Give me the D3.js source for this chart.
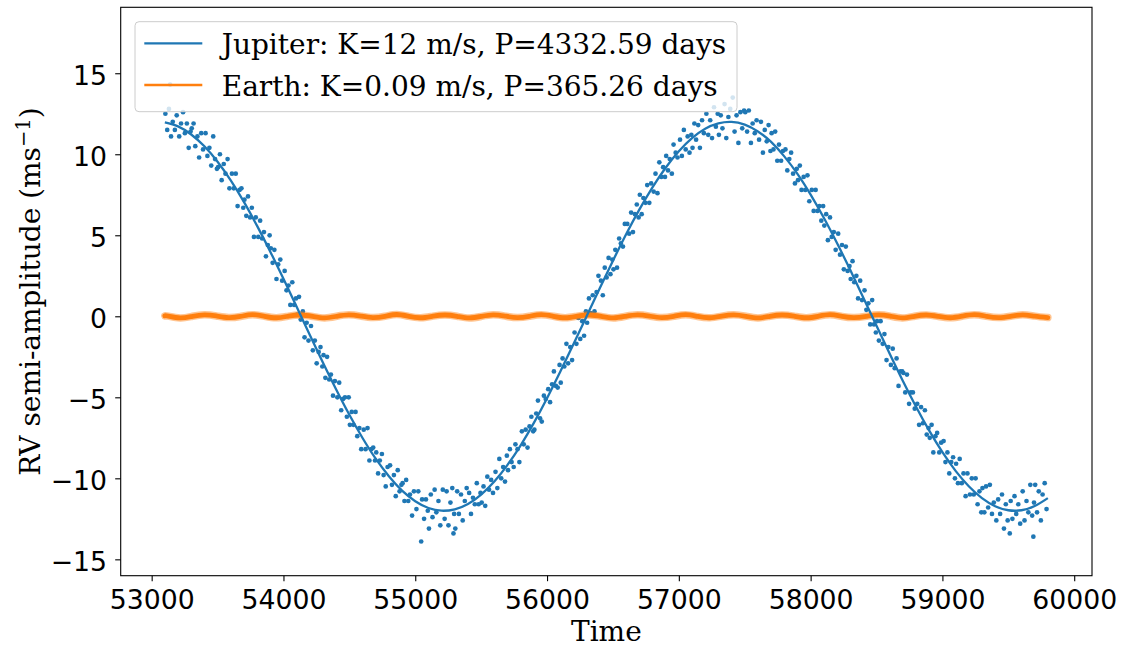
<!DOCTYPE html>
<html>
<head>
<meta charset="utf-8">
<script src="https://cdn.jsdelivr.net/npm/d3@7"></script>
<style>
  body { margin: 0; background: #fff; }
  .tick text { font-family: "DejaVu Sans", sans-serif; font-size: 26.7px; fill: #000; }
  .serif { font-family: "DejaVu Serif", serif; font-size: 28px; fill: #000; }
</style>
</head>
<body>
<svg id="chart" width="1121" height="648"></svg>
<script>
// Jupiter model curve, read every 100 days
const modelTimes = [53100, 53200, 53300, 53400, 53500, 53600, 53700, 53800, 53900, 54000,
  54100, 54200, 54300, 54400, 54500, 54600, 54700, 54800, 54900, 55000,
  55100, 55200, 55300, 55400, 55500, 55600, 55700, 55800, 55900, 56000,
  56100, 56200, 56300, 56400, 56500, 56600, 56700, 56800, 56900, 57000,
  57100, 57200, 57300, 57400, 57500, 57600, 57700, 57800, 57900, 58000,
  58100, 58200, 58300, 58400, 58500, 58600, 58700, 58800, 58900, 59000,
  59100, 59200, 59300, 59400, 59500, 59600, 59700, 59800];
const jupiterModel = [11.97, 11.72, 11.22, 10.49, 9.54, 8.39, 7.06, 5.58, 3.99, 2.31,
  0.59, -1.15, -2.87, -4.52, -6.08, -7.51, -8.79, -9.87, -10.76, -11.41,
  -11.83, -12.00, -11.91, -11.58, -11.00, -10.20, -9.17, -7.96, -6.58, -5.06,
  -3.43, -1.73, 0.00, 1.73, 3.43, 5.06, 6.58, 7.96, 9.17, 10.19,
  11.00, 11.58, 11.91, 12.00, 11.83, 11.41, 10.76, 9.87, 8.79, 7.51,
  6.08, 4.52, 2.87, 1.15, -0.59, -2.31, -3.99, -5.58, -7.06, -8.39,
  -9.54, -10.49, -11.22, -11.72, -11.97, -11.97, -11.71, -11.22];

// Jupiter observations [time, rv]
const jupiterObs = [
  [53104,12.5],[53118,11.5],[53131,12.8],[53140,14.3],[53147,11.1],[53160,12.0],[53176,11.5],[53190,12.4],
  [53209,11.1],[53223,11.9],[53238,12.6],[53252,11.3],[53267,11.9],[53281,10.4],[53295,11.4],
  [53304,11.6],[53318,11.9],[53331,10.5],[53347,11.1],[53360,9.8],[53376,11.3],[53390,10.3],
  [53409,11.3],[53423,9.9],[53438,10.4],[53452,9.3],[53467,11.1],[53481,9.7],[53495,9.1],
  [53504,9.2],[53518,10.0],[53531,8.4],[53547,9.4],[53560,8.8],[53576,9.7],[53590,7.9],
  [53609,8.8],[53623,7.9],[53638,8.8],[53652,6.8],[53667,7.8],[53681,7.9],[53695,6.7],
  [53704,7.2],[53718,6.2],[53731,7.4],[53747,6.1],[53760,6.7],[53776,4.9],[53790,6.1],
  [53809,4.9],[53823,5.9],[53838,4.8],[53852,5.2],[53867,3.7],[53881,4.4],[53895,5.0],
  [53904,4.2],[53918,3.3],[53931,4.1],[53947,2.3],[53960,3.2],[53976,3.5],[53990,2.2],
  [54009,2.8],[54023,1.6],[54038,1.9],[54052,0.7],[54067,2.1],[54081,0.7],[54095,1.1],
  [54104,0.1],[54118,1.2],[54131,-0.2],[54147,0.3],[54160,-1.3],[54176,-0.4],[54190,-1.5],
  [54209,-0.6],[54223,-2.1],[54238,-1.5],[54252,-2.9],[54267,-2.2],[54281,-1.9],[54295,-3.1],
  [54304,-2.4],[54318,-3.8],[54331,-2.5],[54347,-3.9],[54360,-3.6],[54376,-4.9],[54390,-4.0],
  [54409,-5.0],[54423,-4.1],[54438,-5.8],[54452,-5.1],[54467,-5.0],[54481,-6.2],[54495,-5.0],
  [54504,-6.7],[54518,-5.9],[54531,-6.7],[54547,-5.9],[54560,-7.4],[54576,-6.9],[54590,-8.2],
  [54609,-7.0],[54623,-8.2],[54638,-6.9],[54652,-8.9],[54667,-8.2],[54681,-8.1],[54695,-8.9],
  [54704,-8.4],[54718,-9.7],[54731,-8.9],[54747,-8.5],[54760,-9.8],[54776,-10.5],[54790,-9.3],
  [54809,-9.2],[54823,-10.4],[54838,-9.8],[54852,-11.1],[54867,-9.5],[54881,-10.8],[54895,-10.4],
  [54904,-10.3],[54918,-11.4],[54931,-10.1],[54947,-11.4],[54960,-11.0],[54976,-12.3],[54990,-10.8],
  [55009,-11.9],[55023,-10.8],[55045,-13.9],[55052,-11.3],[55067,-12.5],[55081,-11.3],[55095,-12.0],
  [55104,-13.1],[55118,-11.0],[55131,-12.4],[55147,-10.7],[55160,-12.1],[55176,-11.4],[55190,-12.9],
  [55209,-10.7],[55223,-12.5],[55238,-10.8],[55252,-12.9],[55267,-11.5],[55281,-10.6],[55290,-13.4],[55295,-12.2],
  [55304,-13.1],[55318,-10.8],[55331,-12.2],[55347,-11.0],[55360,-12.6],[55376,-11.4],[55390,-10.6],
  [55409,-10.9],[55423,-12.2],[55438,-11.2],[55452,-11.6],[55467,-10.3],[55481,-11.6],[55495,-10.9],
  [55504,-11.5],[55518,-10.5],[55531,-11.7],[55547,-9.9],[55560,-10.7],[55576,-10.1],[55590,-10.9],
  [55609,-9.6],[55623,-10.6],[55638,-8.8],[55652,-10.0],[55667,-9.3],[55681,-10.2],[55695,-8.6],
  [55704,-9.5],[55718,-8.2],[55731,-9.0],[55747,-9.3],[55760,-7.9],[55776,-8.2],[55790,-9.0],
  [55809,-7.1],[55823,-7.9],[55838,-7.0],[55852,-8.1],[55867,-6.8],[55881,-6.2],[55895,-7.1],
  [55904,-7.0],[55918,-6.0],[55931,-5.2],[55947,-6.3],[55960,-6.5],[55976,-4.9],[55990,-5.1],
  [56009,-4.5],[56023,-5.3],[56038,-4.2],[56052,-3.4],[56067,-4.3],[56081,-4.4],[56095,-3.0],
  [56104,-4.1],[56118,-2.6],[56131,-3.1],[56147,-1.7],[56160,-2.9],[56176,-1.9],[56190,-2.7],
  [56209,-1.0],[56223,-1.7],[56238,-0.1],[56252,-1.4],[56267,-0.3],[56281,-1.2],[56295,0.3],
  [56304,-0.4],[56318,1.1],[56331,0.2],[56347,1.3],[56360,0.3],[56376,1.5],[56390,2.5],
  [56409,2.2],[56423,1.3],[56438,3.0],[56452,2.4],[56467,3.6],[56481,2.6],[56495,3.5],
  [56504,2.9],[56518,4.1],[56531,3.0],[56547,4.8],[56560,4.5],[56576,4.3],[56590,5.7],
  [56609,5.7],[56623,5.1],[56638,6.4],[56652,5.2],[56667,6.3],[56681,6.9],[56695,6.1],
  [56704,7.5],[56718,6.3],[56731,7.3],[56747,7.0],[56760,8.1],[56776,7.0],[56790,8.2],
  [56809,7.7],[56823,8.8],[56838,7.6],[56852,9.5],[56867,8.6],[56881,9.2],[56895,8.6],
  [56904,9.9],[56918,9.0],[56931,9.7],[56947,8.8],[56960,10.6],[56976,10.1],[56990,9.8],
  [57009,10.9],[57023,9.9],[57038,11.5],[57052,10.3],[57067,11.1],[57081,10.1],[57095,11.2],
  [57104,10.4],[57118,11.9],[57131,10.9],[57147,11.8],[57160,10.4],[57176,12.1],[57190,11.3],
  [57209,12.5],[57223,11.2],[57238,12.1],[57252,11.0],[57267,12.9],[57281,11.7],[57295,12.5],
  [57304,11.2],[57318,12.4],[57331,11.6],[57347,13.1],[57360,11.0],[57376,12.3],[57390,12.8],
  [57409,13.5],[57423,11.4],[57438,12.4],[57452,10.7],[57467,12.6],[57481,11.6],[57495,12.7],
  [57504,12.6],[57518,11.4],[57531,12.7],[57547,10.7],[57560,11.9],[57576,11.3],[57590,12.1],
  [57609,10.9],[57623,12.0],[57638,10.1],[57652,11.5],[57667,10.8],[57681,11.8],[57695,10.2],
  [57704,11.3],[57718,10.3],[57731,11.4],[57747,9.6],[57760,10.6],[57776,9.6],[57790,10.2],
  [57809,10.3],[57823,9.0],[57838,9.7],[57852,10.1],[57867,8.8],[57881,8.2],[57895,9.1],
  [57904,8.4],[57918,9.3],[57931,7.8],[57947,8.6],[57960,7.8],[57976,8.7],[57990,7.1],
  [58009,7.8],[58023,6.5],[58038,7.8],[58052,6.5],[58067,6.8],[58081,5.9],[58095,6.8],
  [58104,5.6],[58118,6.3],[58131,4.7],[58147,6.1],[58160,4.9],[58176,5.2],[58190,4.1],
  [58209,5.1],[58223,3.8],[58238,4.4],[58252,2.9],[58267,4.3],[58281,2.8],[58295,3.1],
  [58304,2.3],[58318,3.4],[58331,2.1],[58347,2.5],[58360,1.1],[58376,2.2],[58390,1.0],
  [58409,1.6],[58423,0.4],[58438,0.8],[58452,-0.5],[58467,1.0],[58481,-0.5],[58495,-1.0],
  [58504,-0.3],[58518,-1.5],[58531,-0.3],[58547,-1.7],[58560,-1.1],[58576,-2.7],[58590,-1.9],
  [58609,-3.0],[58623,-2.0],[58638,-3.2],[58652,-2.6],[58667,-4.3],[58681,-3.4],[58695,-3.4],
  [58704,-3.5],[58718,-4.7],[58731,-3.6],[58747,-5.4],[58760,-4.7],[58776,-4.7],[58790,-5.7],
  [58809,-5.4],[58823,-6.7],[58838,-5.6],[58852,-6.6],[58867,-5.8],[58881,-7.3],[58895,-6.9],
  [58904,-7.5],[58918,-6.7],[58931,-8.4],[58947,-7.4],[58960,-7.2],[58976,-8.4],[58990,-7.8],
  [59009,-7.7],[59023,-9.0],[59038,-8.4],[59052,-9.7],[59067,-9.0],[59081,-8.7],[59095,-10.0],
  [59104,-9.1],[59118,-10.3],[59131,-8.8],[59147,-10.3],[59160,-9.7],[59176,-11.1],[59190,-9.7],
  [59209,-11.0],[59223,-10.0],[59238,-11.0],[59252,-10.0],[59267,-11.6],[59281,-10.8],[59295,-12.1],
  [59304,-10.6],[59318,-12.1],[59331,-10.5],[59347,-11.8],[59360,-10.4],[59376,-12.2],[59390,-11.5],
  [59409,-12.6],[59423,-11.3],[59438,-12.2],[59452,-11.0],[59467,-13.1],[59481,-11.6],[59495,-12.6],
  [59511,-13.4],[59518,-11.4],[59531,-12.5],[59547,-11.1],[59560,-12.2],[59576,-11.6],[59590,-12.8],
  [59609,-10.8],[59623,-12.6],[59638,-11.4],[59652,-12.1],[59667,-10.4],[59681,-12.3],[59690,-13.6],[59695,-11.5],
  [59704,-10.4],[59718,-12.1],[59731,-10.8],[59747,-12.6],[59760,-11.0],[59776,-10.3],[59790,-11.9]
];

// Earth signal, read at quarter periods [time, rv]
const earthObs = [
  [53100,0.03],[53126,0.01],[53217,-0.10],[53309,0.00],[53400,0.09],[53491,0.02],[53583,-0.08],[53674,-0.01],
  [53765,0.10],[53857,0.00],[53948,-0.09],[54039,0.01],[54130,0.08],[54222,-0.01],[54313,-0.10],[54404,0.00],
  [54496,0.09],[54587,0.01],[54678,-0.08],[54770,0.00],[54861,0.11],[54952,-0.01],[55043,-0.09],[55135,0.01],
  [55226,0.08],[55317,0.00],[55409,-0.10],[55500,-0.01],[55591,0.09],[55683,0.01],[55774,-0.08],[55865,0.00],
  [55956,0.10],[56048,0.00],[56139,-0.09],[56230,0.01],[56322,0.08],[56413,-0.01],[56504,-0.10],[56596,0.00],
  [56687,0.09],[56778,0.01],[56869,-0.08],[56961,0.00],[57052,0.10],[57143,-0.01],[57235,-0.09],[57326,0.01],
  [57417,0.09],[57509,0.00],[57600,-0.10],[57691,0.00],[57783,0.08],[57874,0.01],[57965,-0.09],[58056,0.00],
  [58148,0.10],[58239,-0.01],[58330,-0.08],[58422,0.00],[58513,0.09],[58604,0.01],[58696,-0.10],[58787,0.00],
  [58878,0.08],[58969,-0.01],[59061,-0.09],[59152,0.01],[59243,0.10],[59335,0.00],[59426,-0.08],[59517,0.00],
  [59609,0.09],[59700,0.01],[59800,-0.08]
];

const xTicks = [53000, 54000, 55000, 56000, 57000, 58000, 59000, 60000];
const yTicks = [-15, -10, -5, 0, 5, 10, 15];
const legendLabels = ["Jupiter: K=12 m/s, P=4332.59 days", "Earth: K=0.09 m/s, P=365.26 days"];
const colors = ["#1f77b4", "#ff7f0e"];

const svg = d3.select("#chart");
const plotLeft = 120.7, plotRight = 1092, plotTop = 7.3, plotBottom = 575.7;

const x = d3.scaleLinear().domain([52765, 60135]).range([plotLeft, plotRight]);
const y = d3.scaleLinear().domain([-16.01, 19.07]).range([plotBottom, plotTop]);

const plot = svg.append("g");

// Jupiter observations
plot.append("g")
  .selectAll("circle")
  .data(jupiterObs)
  .enter().append("circle")
  .attr("cx", d => x(d[0]))
  .attr("cy", d => y(d[1]))
  .attr("r", 2.35)
  .attr("fill", colors[0]);

// Earth band (soft edge + core)
const earthLine = d3.line()
  .x(d => x(d[0]))
  .y(d => y(d[1]))
  .curve(d3.curveNatural);

plot.append("path")
  .datum(earthObs)
  .attr("fill", "none")
  .attr("stroke", colors[1])
  .attr("stroke-opacity", 0.45)
  .attr("stroke-width", 7.5)
  .attr("stroke-linecap", "round")
  .attr("d", earthLine);

plot.append("path")
  .datum(earthObs)
  .attr("fill", "none")
  .attr("stroke", colors[1])
  .attr("stroke-width", 4.8)
  .attr("stroke-linecap", "round")
  .attr("d", earthLine);

// Jupiter model
const modelLine = d3.line()
  .x((d, i) => x(modelTimes[i]))
  .y(d => y(d))
  .curve(d3.curveNatural);

plot.append("path")
  .datum(jupiterModel)
  .attr("fill", "none")
  .attr("stroke", colors[0])
  .attr("stroke-width", 2.3)
  .attr("d", modelLine);

// axes
const xAxis = svg.append("g")
  .attr("transform", `translate(0,${plotBottom})`)
  .call(d3.axisBottom(x).tickValues(xTicks).tickFormat(d3.format("d")).tickSize(5.5).tickPadding(8.8));
xAxis.select(".domain").remove();
xAxis.selectAll(".tick line").attr("stroke-width", 1.1);

const yAxis = svg.append("g")
  .attr("transform", `translate(${plotLeft},0)`)
  .call(d3.axisLeft(y).tickValues(yTicks).tickSize(5.5).tickPadding(8.2));
yAxis.select(".domain").remove();
yAxis.selectAll(".tick line").attr("stroke-width", 1.1);
yAxis.selectAll(".tick text").attr("dy", "0.41em");

// frame
svg.append("rect")
  .attr("x", plotLeft).attr("y", plotTop)
  .attr("width", plotRight - plotLeft).attr("height", plotBottom - plotTop)
  .attr("fill", "none")
  .attr("stroke", "#000")
  .attr("stroke-width", 1.1);

// axis labels
svg.append("text")
  .attr("class", "serif")
  .attr("x", (plotLeft + plotRight) / 2)
  .attr("y", 641)
  .attr("text-anchor", "middle")
  .text("Time");

const yLabel = svg.append("text")
  .attr("class", "serif")
  .attr("transform", `translate(40,${(plotTop + plotBottom) / 2}) rotate(-90)`)
  .attr("text-anchor", "middle");
yLabel.append("tspan").text("RV semi-amplitude (ms");
yLabel.append("tspan").attr("dy", -10.5).attr("font-size", "19.6px").text("\u22121");
yLabel.append("tspan").attr("dy", 10.5).text(")");

// legend
const legend = svg.append("g");
legend.append("rect")
  .attr("x", 135).attr("y", 21.7)
  .attr("width", 602).attr("height", 90)
  .attr("rx", 4)
  .attr("fill", "#fff")
  .attr("fill-opacity", 0.8)
  .attr("stroke", "#cccccc")
  .attr("stroke-width", 1);

const rows = [43.3, 85];
legendLabels.forEach((label, i) => {
  legend.append("line")
    .attr("x1", 144.3).attr("x2", 202.3)
    .attr("y1", rows[i]).attr("y2", rows[i])
    .attr("stroke", colors[i])
    .attr("stroke-width", 2.3);
  legend.append("text")
    .attr("class", "serif")
    .attr("x", 221.7)
    .attr("y", rows[i] + 10.7)
    .text(label);
});
</script>
</body>
</html>
